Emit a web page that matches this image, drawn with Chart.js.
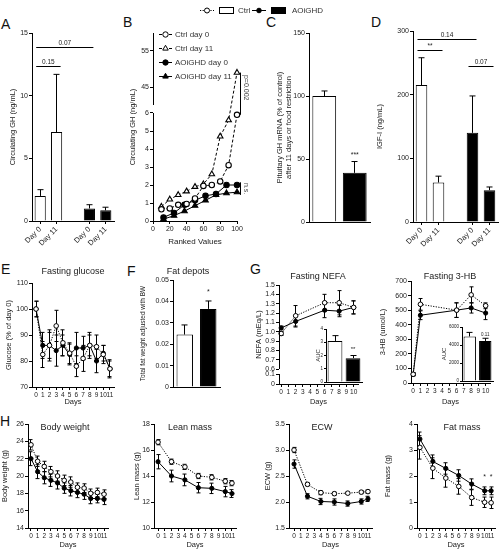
<!DOCTYPE html>
<html>
<head>
<meta charset="utf-8">
<script src="https://cdn.jsdelivr.net/npm/chart.js@4.4.1/dist/chart.umd.min.js"></script>
<style>
  body { margin: 0; background: #fff; }
  #fig { position: relative; width: 500px; height: 549px; overflow: hidden; }
  #fig canvas { position: absolute; left: 0; top: 0; }
  .lbl { position: absolute; font: 14px 'Liberation Sans', Arial, sans-serif; color: #111; }
</style>
</head>
<body>
<div id="fig">
  <div class="lbl" style="left:1px;top:16px">A</div>
  <div class="lbl" style="left:123px;top:14px">B</div>
  <div class="lbl" style="left:266px;top:14px">C</div>
  <div class="lbl" style="left:371px;top:14px">D</div>
  <div class="lbl" style="left:1px;top:261px">E</div>
  <div class="lbl" style="left:127px;top:263px">F</div>
  <div class="lbl" style="left:250px;top:261px">G</div>
  <div class="lbl" style="left:0px;top:413px">H</div>
</div>
<script>
// ---- data ----
// A: circulating GH (bars, slot 2 is the gap between groups)
const barDays = ['Day 0', 'Day 11', '', 'Day 0', 'Day 11'];
const barGroup = ['ctrl', 'ctrl', null, 'aoi', 'aoi'];
const ghMean = [2.0, 7.1, null, 1.0, 0.85];
const ghErr = [0.5, 4.6, null, 0.3, 0.25];

// B: ranked GH values
const rankCtrl = [10, 20, 30, 40, 50, 60, 70, 80, 90, 100];
const ghCtrlDay0 = [0.65, 0.7, 0.9, 0.95, 1.25, 1.95, 2.0, 2.2, 3.1, 5.9];
const ghCtrlDay11 = [0.8, 1.2, 1.45, 1.65, 1.9, 2.05, 2.6, 4.7, 5.6, 49];
const rankAoi = [12.5, 25, 37.5, 50, 62.5, 75, 87.5, 100];
const ghAoiDay0 = [0.2, 0.45, 0.9, 1.15, 1.4, 1.5, 2.0, 2.0];
const ghAoiDay11 = [0.1, 0.3, 0.55, 0.85, 1.15, 1.45, 1.55, 1.6];

// C: pituitary GH mRNA
const groups = ['Ctrl', 'AOiGHD'];
const mrnaMean = [100, 39];
const mrnaErr = [4, 9];

// D: IGF-I
const igfMean = [215, 62, null, 140, 50];
const igfErr = [43, 10, null, 58, 5];

// E: fasting glucose
const glucDays = [0, 1, 2, 3, 4, 5, 6, 7, 8, 9, 10, 11];
const glucCtrl = [100, 82.5, 86, 93.5, 87, 83, 78, 81, 86, 85.5, 82.5, 77];
const glucCtrlErr = [3, 5, 5, 6, 5, 4, 4, 5, 5, 4.5, 3.5, 3.5];
const glucAoi = [100, 86, 86, 84, 86, 82.5, 85, 85, 86, 80, 83, 77];
const glucAoiErr = [3, 5, 6, 6, 4, 4, 6, 4.5, 4, 4.5, 3, 3];

// F: fat depots
const fatDepot = [0.0245, 0.0365];
const fatDepotErr = [0.0045, 0.0037];

// G: NEFA and 3-HB
const nefaDays = [0, 2, 6, 8, 10];
const nefaCtrl = [0.98, 1.17, 1.31, 1.31, 1.26];
const nefaCtrlErr = [0.02, 0.11, 0.09, 0.13, 0.07];
const nefaAoi = [1.04, 1.11, 1.23, 1.22, 1.26];
const nefaAoiErr = [0.02, 0.06, 0.08, 0.06, 0.07];
const nefaAuc = [3.1, 1.8];
const nefaAucErr = [0.4, 0.2];
const hbDays = [0, 1, 6, 8, 10];
const hbCtrl = [60, 540, 500, 605, 530];
const hbCtrlErr = [10, 40, 50, 55, 20];
const hbAoi = [60, 465, 500, 515, 480];
const hbAoiErr = [10, 30, 50, 35, 45];
const hbAuc = [4950, 4450];
const hbAucErr = [450, 300];

// H: body composition
const bwDays = [0, 1, 2, 3, 4, 5, 6, 7, 8, 9, 10, 11];
const bwCtrl = [23.6, 21.7, 21.1, 20.5, 20.0, 19.5, 19.3, 18.7, 18.6, 18.0, 18.1, 17.9];
const bwCtrlErr = [0.6, 0.6, 0.6, 0.6, 0.6, 0.6, 0.6, 0.5, 0.5, 0.5, 0.5, 0.5];
const bwAoi = [22.0, 20.5, 19.8, 19.5, 19.2, 18.6, 18.3, 18.1, 17.9, 17.4, 17.4, 17.3];
const bwAoiErr = [0.8, 0.8, 0.7, 0.7, 0.7, 0.6, 0.6, 0.6, 0.6, 0.6, 0.5, 0.6];
const compDays = [0, 2, 4, 6, 8, 10, 11];
const leanCtrl = [16.6, 15.1, 14.7, 14.0, 13.9, 13.6, 13.45];
const leanCtrlErr = [0.2, 0.2, 0.2, 0.2, 0.2, 0.2, 0.2];
const leanAoi = [15.1, 14.0, 13.7, 13.1, 13.05, 12.8, 12.65];
const leanAoiErr = [0.55, 0.45, 0.45, 0.4, 0.4, 0.4, 0.3];
const ecwCtrl = [3.0, 2.34, 2.18, 2.16, 2.17, 2.19, 2.2];
const ecwCtrlErr = [0.05, 0.03, 0.04, 0.03, 0.02, 0.03, 0.03];
const ecwAoi = [2.73, 2.11, 2.01, 2.0, 1.97, 2.01, 2.06];
const ecwAoiErr = [0.08, 0.05, 0.06, 0.06, 0.05, 0.05, 0.05];
const fatCtrl = [3.1, 2.3, 1.92, 1.6, 1.17, 0.99, 0.97];
const fatCtrlErr = [0.45, 0.4, 0.35, 0.3, 0.3, 0.2, 0.22];
const fatAoi = [3.42, 2.56, 2.29, 2.02, 1.69, 1.43, 1.43];
const fatAoiErr = [0.27, 0.25, 0.22, 0.22, 0.2, 0.15, 0.15];

// ---- setup ----
const FONT = "'Liberation Sans', Arial, Helvetica, sans-serif";
Chart.defaults.font.family = FONT;
Chart.defaults.font.size = 7;
Chart.defaults.color = '#222';
Chart.defaults.animation = false;
Chart.defaults.events = [];
Chart.defaults.plugins.legend.display = false;
Chart.defaults.plugins.tooltip.enabled = false;

// linear scale with a gap (broken axis)
class BrokenScale extends Chart.LinearScale {
  buildTicks() {
    return this.options.brk.tickValues.map(v => ({ value: v }));
  }
  getPixelForValue(v) {
    const b = this.options.brk;
    let f;
    if (v <= b.lowMax) f = (v - this.min) / (b.lowMax - this.min) * b.lowFrac;
    else if (v >= b.highMin) f = b.highFrac + (v - b.highMin) / (this.max - b.highMin) * (1 - b.highFrac);
    else f = b.lowFrac + (v - b.lowMax) / (b.highMin - b.lowMax) * (b.highFrac - b.lowFrac);
    return this.getPixelForDecimal(f);
  }
}
BrokenScale.id = 'broken';
BrokenScale.defaults = Chart.LinearScale.defaults;
Chart.register(BrokenScale);

function drawErrors(chart) {
  const ctx = chart.ctx;
  chart.data.datasets.forEach((ds, di) => {
    if (!ds.errors) return;
    const meta = chart.getDatasetMeta(di);
    const ys = chart.scales[meta.yAxisID];
    ctx.save();
    ctx.strokeStyle = '#000';
    ctx.lineWidth = 1;
    meta.data.forEach((el, i) => {
      const p = meta.controller.getParsed(i);
      const e = ds.errors[i];
      if (!p || p.y == null || isNaN(p.y) || e == null) return;
      const x = Math.round(el.x - 0.5) + 0.5;
      const yt = ys.getPixelForValue(p.y + e);
      const yb = ds.errUp ? ys.getPixelForValue(p.y) : ys.getPixelForValue(p.y - e);
      const c = ds.cap || 2;
      ctx.beginPath();
      ctx.moveTo(x, yb); ctx.lineTo(x, yt);
      ctx.moveTo(x - c, yt); ctx.lineTo(x + c, yt);
      if (!ds.errUp) { ctx.moveTo(x - c, yb); ctx.lineTo(x + c, yb); }
      ctx.stroke();
    });
    ctx.restore();
  });
}

function marker(ctx, style, filled, x, y, r) {
  ctx.save();
  ctx.setLineDash([]);
  ctx.fillStyle = filled ? '#000' : '#fff';
  ctx.strokeStyle = '#000';
  ctx.lineWidth = 1;
  Chart.helpers.drawPoint(ctx, { pointStyle: style, radius: r, borderWidth: 1, rotation: 0 }, x, y);
  ctx.restore();
}

function extras(spec) {
  return {
    id: 'extras',
    beforeDatasetsDraw(chart) { drawErrors(chart); },
    afterDraw(chart) {
      const ctx = chart.ctx, xs = chart.scales.x, ys = chart.scales.y, a = chart.chartArea;
      ctx.save();
      ctx.fillStyle = '#222';
      ctx.strokeStyle = '#000';
      ctx.lineWidth = 1;
      ctx.textAlign = 'center';
      if (spec.broken) {
        const b = ys.options.brk;
        const x = Math.round(a.left - 0.5) + 0.5;
        ctx.beginPath();
        ctx.moveTo(x, ys.getPixelForValue(ys.min)); ctx.lineTo(x, ys.getPixelForValue(b.lowMax));
        ctx.moveTo(x, ys.getPixelForValue(b.highMin)); ctx.lineTo(x, ys.getPixelForValue(ys.max));
        ctx.stroke();
      }
      if (spec.title) {
        ctx.font = '9px ' + FONT;
        ctx.textBaseline = 'middle';
        ctx.fillText(spec.title[0], spec.title[1], spec.title[2]);
      }
      ctx.font = '6.5px ' + FONT;
      ctx.textBaseline = 'bottom';
      (spec.brackets || []).forEach(b => {
        const y = Math.round(ys.getPixelForValue(b.y)) + 0.5;
        const x0 = xs.getPixelForValue(b.from) - 4, x1 = xs.getPixelForValue(b.to) + 4;
        ctx.beginPath(); ctx.moveTo(x0, y); ctx.lineTo(x1, y); ctx.stroke();
        ctx.fillText(b.label, (x0 + x1) / 2, y - 1.5);
      });
      ctx.font = (spec.markSize || 7) + 'px ' + FONT;
      (spec.marks || []).forEach(m => ctx.fillText(m.text, xs.getPixelForValue(m.x), ys.getPixelForValue(m.y)));
      (spec.vbrackets || []).forEach(v => {
        const x = Math.round(a.right) + 3.5;
        const y0 = ys.getPixelForValue(v.y0), y1 = ys.getPixelForValue(v.y1);
        ctx.beginPath(); ctx.moveTo(x, y0); ctx.lineTo(x, y1); ctx.stroke();
        ctx.save();
        ctx.translate(x + 2, (y0 + y1) / 2 - (v.shift || 0));
        ctx.rotate(Math.PI / 2);
        ctx.textBaseline = 'bottom';
        ctx.font = '7px ' + FONT;
        ctx.fillStyle = '#444';
        ctx.fillText(v.label, 0, 0);
        ctx.restore();
      });
      if (spec.draw) spec.draw(ctx, chart);
      ctx.restore();
    }
  };
}

function axis(o) {
  const a = {
    type: o.type || 'linear',
    grid: { drawOnChartArea: false, drawTicks: o.noTicks !== true, tickLength: o.tickLen || 3, color: o.gridColor || '#000', lineWidth: 1, offset: false },
    border: { display: o.border !== false, color: '#000', width: 1 },
    ticks: {
      display: o.hide !== true, font: { size: o.size || 7 }, padding: o.pad === undefined ? 1 : o.pad,
      autoSkip: false, maxRotation: o.rot || 0, minRotation: o.rot || 0, includeBounds: false, color: '#222'
    },
    title: o.title ? { display: true, text: o.title, padding: 0, font: { size: o.titleSize || 7.5 }, color: '#222' } : { display: false }
  };
  if (a.type !== 'category') a.ticks.format = { useGrouping: false };
  if (o.min !== undefined) a.min = o.min;
  if (o.max !== undefined) a.max = o.max;
  if (o.step) a.ticks.stepSize = o.step;
  if (o.brk) a.brk = o.brk;
  return a;
}

const fig = document.getElementById('fig');
// box = [left, bottom] of the whole panel, area = [x0, y0, x1, y1] of the plot area
function panel(box, area, type, data, scales, spec) {
  const cv = document.createElement('canvas');
  cv.width = 500; cv.height = 549;
  fig.appendChild(cv);
  scales.x.afterFit = s => { s.height = box[1] - area[3]; };
  scales.y.afterFit = s => { s.width = area[0] - box[0]; };
  return new Chart(cv, {
    type, data,
    options: {
      responsive: false,
      maintainAspectRatio: false,
      layout: { padding: { left: box[0], top: area[1], right: 500 - area[2], bottom: 549 - box[1] } },
      scales
    },
    plugins: [extras(spec || {})]
  });
}

function barSet(values, errs, colors, pct) {
  return { data: values, backgroundColor: colors, borderColor: '#000', borderWidth: 1,
    barPercentage: pct, categoryPercentage: 1, errors: errs, errUp: true, cap: 3 };
}
function line(days, vals, errs, kind) {
  const open = kind === 'ctrl';
  return {
    data: days.map((d, i) => ({ x: d, y: vals[i] })), errors: errs,
    borderColor: '#000', borderWidth: 1, borderDash: open ? [1.2, 1.4] : [],
    pointStyle: 'circle', pointRadius: open ? 2.3 : 2.1,
    pointBackgroundColor: open ? '#fff' : '#000', pointBorderColor: '#000', pointBorderWidth: 1,
    tension: 0, clip: false, cap: 2
  };
}
function lineB(days, vals, label, style, filled) {
  return {
    label, data: days.map((d, i) => ({ x: d, y: vals[i] })),
    borderColor: '#000', borderWidth: 1, borderDash: filled ? [] : [3, 2],
    pointStyle: style, pointRadius: style === 'triangle' ? 3.2 : 2.7,
    pointBackgroundColor: filled ? '#000' : '#fff', pointBorderColor: '#000', pointBorderWidth: 1.1,
    tension: 0, clip: false
  };
}
const barColors = barGroup.map(g => g === 'aoi' ? '#000' : '#fff');
const hideBlank = c => (c.tick && c.tick.label) ? '#000' : 'rgba(0,0,0,0)';

// ---- A ----
panel([8, 268], [32, 33, 114, 221], 'bar',
  { labels: barDays, datasets: [barSet(ghMean, ghErr, barColors, 0.68)] },
  { x: axis({ type: 'category', rot: 45, size: 7.5, gridColor: hideBlank }),
    y: axis({ min: 0, max: 15, step: 5, title: 'Circulating GH (ng/mL)' }) },
  {
    brackets: [{ from: 0, to: 1, y: 12.4, label: '0.15' }, { from: 0, to: 3, y: 13.9, label: '0.07' }],
    draw(ctx) {
      // shared legend at top of figure
      ctx.lineWidth = 1;
      ctx.setLineDash([1.2, 1.4]);
      ctx.beginPath(); ctx.moveTo(200, 10.5); ctx.lineTo(214, 10.5); ctx.stroke();
      ctx.setLineDash([]);
      marker(ctx, 'circle', false, 207, 10.5, 2.5);
      ctx.strokeRect(219.5, 7.5, 14, 6);
      ctx.fillStyle = '#333';
      ctx.font = '8px ' + FONT; ctx.textAlign = 'left'; ctx.textBaseline = 'middle';
      ctx.fillText('Ctrl', 238, 10.5);
      ctx.beginPath(); ctx.moveTo(252, 10.5); ctx.lineTo(266, 10.5); ctx.stroke();
      marker(ctx, 'circle', true, 259, 10.5, 2.3);
      ctx.fillStyle = '#000'; ctx.fillRect(271, 7, 15, 7);
      ctx.fillStyle = '#333';
      ctx.fillText('AOiGHD', 292, 10.5);
    }
  });

// ---- B ----
panel([128, 246.5], [153, 33, 237, 221], 'line',
  { datasets: [
      lineB(rankCtrl, ghCtrlDay0, 'Ctrl day 0', 'circle', false),
      lineB(rankCtrl, ghCtrlDay11, 'Ctrl day 11', 'triangle', false),
      lineB(rankAoi, ghAoiDay0, 'AOiGHD day 0', 'circle', true),
      lineB(rankAoi, ghAoiDay11, 'AOiGHD day 11', 'triangle', true)] },
  { x: axis({ min: 0, max: 100, step: 20, title: 'Ranked Values', titleSize: 8 }),
    y: axis({ type: 'broken', min: 0, max: 60, border: false, title: 'Circulating GH (ng/mL)',
      brk: { tickValues: [0, 1, 2, 3, 4, 5, 6, 45, 55], lowMax: 6, lowFrac: 108 / 188, highMin: 40, highFrac: 116 / 188 } }) },
  {
    broken: true,
    vbrackets: [{ y0: 5.9, y1: 49, label: 'p=0.002', shift: 6 }, { y0: 1.45, y1: 2.15, label: 'n.s.' }],
    draw(ctx, chart) {
      ctx.font = '8px ' + FONT; ctx.textAlign = 'left'; ctx.textBaseline = 'middle';
      chart.data.datasets.forEach((ds, i) => {
        const y = 34.5 + i * 14;
        ctx.setLineDash(ds.borderDash);
        ctx.beginPath(); ctx.moveTo(159, y); ctx.lineTo(172, y); ctx.stroke();
        ctx.setLineDash([]);
        marker(ctx, ds.pointStyle, ds.pointBackgroundColor === '#000', 165.5, y, ds.pointRadius);
        ctx.fillStyle = '#333';
        ctx.fillText(ds.label, 175, y);
      });
    }
  });

// ---- C ----
panel([275.5, 226], [309, 33, 370, 222], 'bar',
  { labels: groups, datasets: [barSet(mrnaMean, mrnaErr, ['#fff', '#000'], 0.78)] },
  { x: axis({ type: 'category', hide: true, noTicks: true }),
    y: axis({ min: 0, max: 150, step: 50, title: ['Pituitary GH mRNA (% of control)', 'after 11 days or food restriction'] }) },
  { marks: [{ x: 1, y: 50, text: '***' }] });

// ---- D ----
panel([375, 268], [413, 31, 498, 222], 'bar',
  { labels: barDays, datasets: [barSet(igfMean, igfErr, barColors, 0.68)] },
  { x: axis({ type: 'category', rot: 45, size: 7.5, gridColor: hideBlank }),
    y: axis({ min: 0, max: 300, step: 100, title: 'IGF-I (ng/mL)' }) },
  { brackets: [{ from: 0, to: 1, y: 270, label: '**' }, { from: 0, to: 3, y: 287, label: '0.14' }, { from: 3, to: 4, y: 245, label: '0.07' }] });

// ---- E ----
panel([4.5, 406.5], [32, 283, 114, 387], 'line',
  { datasets: [line(glucDays, glucCtrl, glucCtrlErr, 'ctrl'), line(glucDays, glucAoi, glucAoiErr, 'aoi')] },
  { x: axis({ min: -0.6, max: 11.6, step: 1, size: 6.5, title: 'Days' }),
    y: axis({ min: 70, max: 110, step: 10, title: 'Glucose (% of day 0)' }) },
  { title: ['Fasting glucose', 73, 272] });

// ---- F ----
panel([139, 392], [173, 280, 220, 387], 'bar',
  { labels: groups, datasets: [barSet(fatDepot, fatDepotErr, ['#fff', '#000'], 0.7)] },
  { x: axis({ type: 'category', hide: true, noTicks: true }),
    y: axis({ min: 0, max: 0.05, step: 0.01, title: 'Total fat weight adjusted with BW', titleSize: 6.5 }) },
  { title: ['Fat depots', 188, 272], marks: [{ x: 1, y: 0.0425, text: '*' }] });

// ---- G: NEFA ----
panel([254.5, 406.5], [279, 285, 358, 384], 'line',
  { datasets: [line(nefaDays, nefaCtrl, nefaCtrlErr, 'ctrl'), line(nefaDays, nefaAoi, nefaAoiErr, 'aoi')] },
  { x: axis({ min: -0.3, max: 10.6, step: 1, size: 6.5, title: 'Days' }),
    y: axis({ type: 'broken', min: 0, max: 1.5, border: false, title: 'NEFA (mEq/L)',
      brk: { tickValues: [0, 0.1, 0.6, 0.7, 0.8, 0.9, 1.0, 1.1, 1.2, 1.3, 1.4, 1.5], lowMax: 0.1, lowFrac: 10 / 99, highMin: 0.6, highFrac: 15 / 99 } }) },
  { title: ['Fasting NEFA', 318, 277], broken: true });

panel([315, 384], [326, 329, 362, 382], 'bar',
  { labels: groups, datasets: [barSet(nefaAuc, nefaAucErr, ['#fff', '#000'], 0.82)] },
  { x: axis({ type: 'category', hide: true, noTicks: true }),
    y: axis({ min: 0, max: 4, step: 1, size: 4.5, tickLen: 2, title: 'AUC', titleSize: 6 }) },
  { marks: [{ x: 1, y: 2.25, text: '**' }], markSize: 6 });

// ---- G: 3-HB ----
panel([378.5, 406.5], [411, 281, 490, 383], 'line',
  { datasets: [line(hbDays, hbCtrl, hbCtrlErr, 'ctrl'), line(hbDays, hbAoi, hbAoiErr, 'aoi')] },
  { x: axis({ min: -0.3, max: 10.6, step: 1, size: 6.5, title: 'Days' }),
    y: axis({ min: 0, max: 700, step: 100, title: '3-HB (umol/L)' }) },
  { title: ['Fasting 3-HB', 450, 277] });

panel([441, 383], [462, 327, 493, 381], 'bar',
  { labels: groups, datasets: [barSet(hbAuc, hbAucErr, ['#fff', '#000'], 0.8)] },
  { x: axis({ type: 'category', hide: true, noTicks: true }),
    y: axis({ min: 0, max: 6000, step: 2000, size: 4.5, tickLen: 2, title: 'AUC', titleSize: 6 }) },
  { marks: [{ x: 1, y: 4900, text: '0.11' }], markSize: 4.5 });

// ---- H ----
panel([0, 549.5], [28, 424, 108, 528], 'line',
  { datasets: [line(bwDays, bwCtrl, bwCtrlErr, 'ctrl'), line(bwDays, bwAoi, bwAoiErr, 'aoi')] },
  { x: axis({ min: -0.45, max: 11.6, step: 1, size: 6.5, title: 'Days' }),
    y: axis({ min: 14, max: 26, step: 2, title: 'Body weight (g)' }) },
  { title: ['Body weight', 65, 428] });

panel([132.5, 549.5], [154, 424, 236, 528], 'line',
  { datasets: [line(compDays, leanCtrl, leanCtrlErr, 'ctrl'), line(compDays, leanAoi, leanAoiErr, 'aoi')] },
  { x: axis({ min: -0.6, max: 11.6, step: 1, size: 6.5, title: 'Days' }),
    y: axis({ min: 10, max: 18, step: 2, title: 'Lean mass (g)' }) },
  { title: ['Lean mass', 190, 428] });

panel([263.5, 549.5], [289, 424, 372, 528], 'line',
  { datasets: [line(compDays, ecwCtrl, ecwCtrlErr, 'ctrl'), line(compDays, ecwAoi, ecwAoiErr, 'aoi')] },
  { x: axis({ min: -0.75, max: 11.6, step: 1, size: 6.5, title: 'Days' }),
    y: axis({ min: 1.5, max: 3.5, step: 0.5, title: 'ECW (g)' }) },
  { title: ['ECW', 322, 428] });

panel([383.5, 549.5], [417, 424, 498, 528], 'line',
  { datasets: [line(compDays, fatCtrl, fatCtrlErr, 'ctrl'), line(compDays, fatAoi, fatAoiErr, 'aoi')] },
  { x: axis({ min: -0.45, max: 11.6, step: 1, size: 6.5, title: 'Days' }),
    y: axis({ min: 0, max: 4, step: 1, title: 'Fat mass (g)' }) },
  { title: ['Fat mass', 462, 428], marks: [{ x: 10, y: 1.82, text: '*' }, { x: 11, y: 1.82, text: '*' }] });
</script>
</body>
</html>
